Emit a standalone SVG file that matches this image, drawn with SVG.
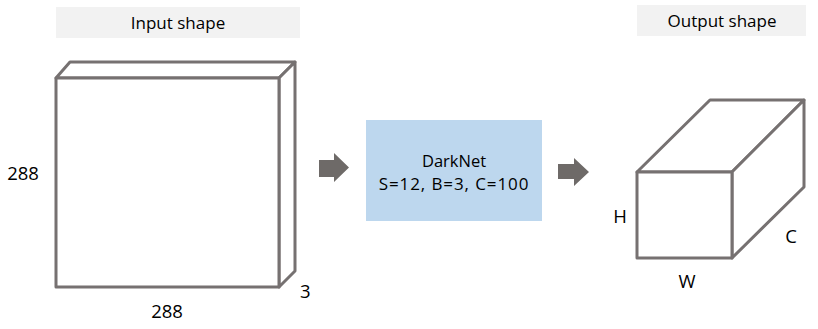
<svg xmlns="http://www.w3.org/2000/svg" width="818" height="329" viewBox="0 0 818 329">
<style>
.t{font-family:"Open Sans","Noto Sans",sans-serif;fill:#000}
.cube{fill:#fff;stroke:#767171;stroke-width:3;stroke-linejoin:round}
.lbl{fill:#f2f2f2}
.arr{fill:#6e6a68}
</style>
<rect width="818" height="329" fill="#fff"/>
<g id="input-label">
<rect class="lbl" x="56" y="7" width="244" height="31"/>
<text class="t" x="178" y="29" font-size="17" text-anchor="middle">Input shape</text>
</g>
<g id="input-cube">
<path class="cube" d="M56,78 L70,62 L295,62 L279,78 Z"/>
<path class="cube" d="M279,78 L295,62 L295,271 L279,287 Z"/>
<rect class="cube" x="56" y="78" width="223" height="209"/>
<text class="t" x="23" y="180" font-size="18.5" text-anchor="middle">288</text>
<text class="t" x="167" y="318" font-size="18.5" text-anchor="middle">288</text>
<text class="t" x="300" y="298" font-size="18.5">3</text>
</g>
<g id="darknet">
<rect x="366" y="120" width="176" height="101" fill="#bdd7ee"/>
<text class="t" x="454" y="167" font-size="16.5" text-anchor="middle">DarkNet</text>
<text class="t" x="454" y="190" font-size="17" letter-spacing="0.9" text-anchor="middle">S=12, B=3, C=100</text>
</g>
<g id="connectors">
<path class="arr" d="M319,160 L334,160 L334,153 L349,167.5 L334,182 L334,177 L319,177 Z"/>
<path class="arr" d="M558,164 L574,164 L574,158 L589,172 L574,186 L574,179 L558,179 Z"/>
</g>
<g id="output-label">
<rect class="lbl" x="637" y="5" width="169" height="31"/>
<text class="t" x="722" y="27" font-size="17" text-anchor="middle">Output shape</text>
</g>
<g id="output-cube">
<path class="cube" d="M637,172 L710,100 L804,100 L732,172 Z"/>
<path class="cube" d="M732,172 L804,100 L804,187 L732,258 Z"/>
<rect class="cube" x="637" y="172" width="95" height="86"/>
<text class="t" x="620" y="223" font-size="18.5" text-anchor="middle">H</text>
<text class="t" x="687" y="288" font-size="18.5" text-anchor="middle">W</text>
<text class="t" x="791" y="243" font-size="18.5" text-anchor="middle">C</text>
</g>
</svg>
